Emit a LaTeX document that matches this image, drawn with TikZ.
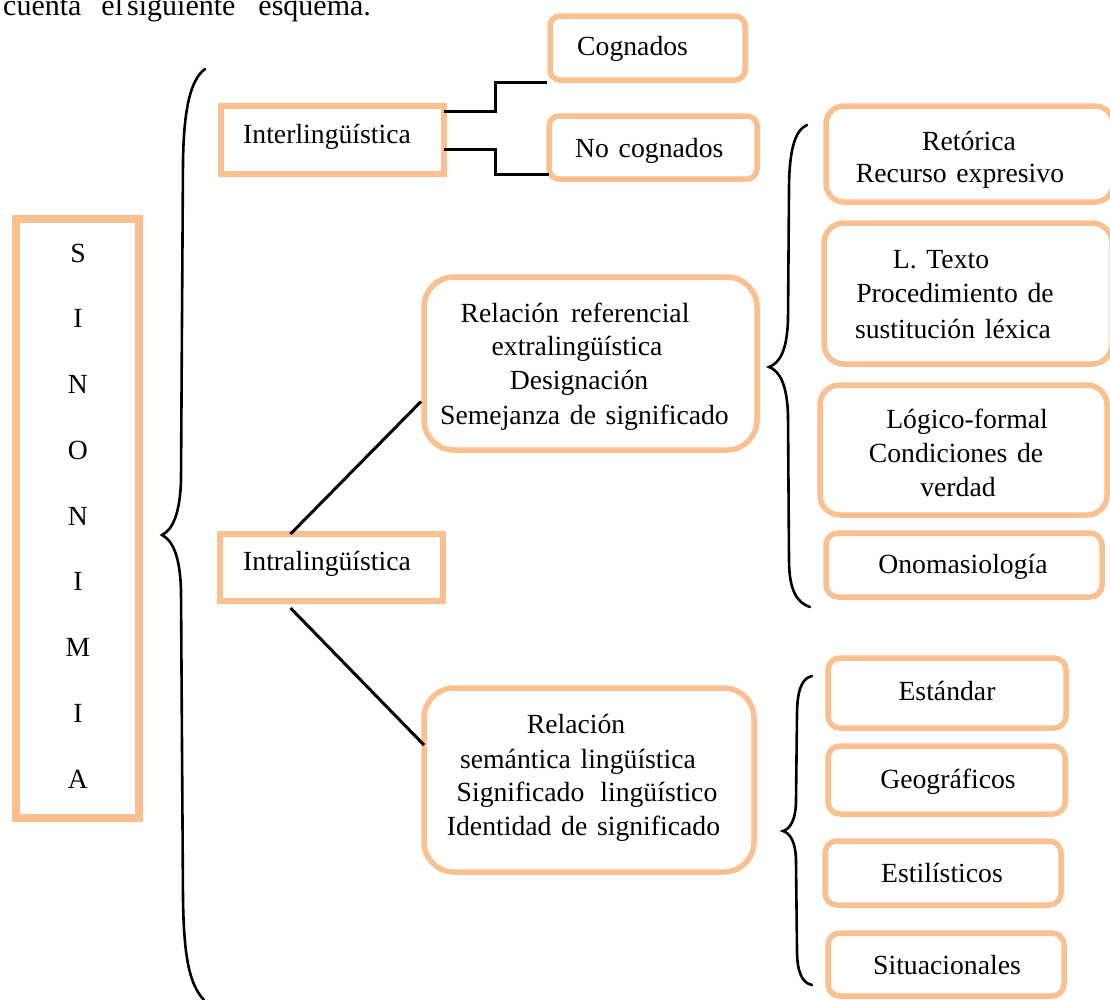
\documentclass[tikz,border=0pt]{standalone}
\usepackage{fontspec}
\setmainfont{Liberation Serif}[WordSpace=1.4]
\definecolor{peach}{RGB}{250,192,144}
\begin{document}
\begin{tikzpicture}[x=1pt,y=-1pt,
  every node/.style={font=\fontsize{27.7}{34}\selectfont},
  sqbox/.style={draw=peach,line width=6pt,inner sep=0pt,outer sep=0pt},
  rbox/.style={draw=peach,line width=5.5pt,rounded corners=#1,inner sep=0pt,outer sep=0pt},
  rbox/.default=10pt,
  txt/.style={anchor=base,inner sep=0pt},
  ltxt/.style={anchor=base west,inner sep=0pt},
  conn/.style={draw=black,line width=3pt},
  brace/.style={draw=black,line width=2.6pt,line cap=round}]
\clip (0,0) rectangle (1110,999);
\fill[white] (0,0) rectangle (1110,999);

% top text fragment
\node[ltxt,font=\fontsize{30}{36}\selectfont] (top) at (3,15) {cuenta\hspace{20pt}el\hspace{4pt}siguiente\hspace{23pt}esquema.};

% SINONIMIA box
\node[draw=peach,line width=7.7pt,inner sep=0pt,minimum width=123.6pt,minimum height=599pt] (sin) at (77.65,518.5) {};
\draw[peach,line width=2pt] ([shift={(7.2pt,-7.2pt)}]sin.north west) rectangle ([shift={(-7.2pt,7.2pt)}]sin.south east);
\foreach \l [count=\i from 0] in {S,I,N,O,N,I,M,I,A}
  \node[txt] (sl\i) at (78,262+\i*65.75) {\l};

% left brace
\draw[brace] (205,69) .. controls (190,80) and (184,110) .. (183,160) -- (181,480)
  .. controls (180,515) and (172,530) .. (162,535)
  .. controls (172,540) and (180,555) .. (181,590) -- (183,900)
  .. controls (184,960) and (190,985) .. (204,1000);

% level 1
\node[sqbox,minimum width=223pt,minimum height=68pt] (inter) at (332.5,140) {};
\node[ltxt] (tinter) at (243,143) {Interlingüística};
\node[sqbox,minimum width=223pt,minimum height=67pt] (intra) at (331.5,567.5) {};
\node[ltxt] (tintra) at (243,570) {Intralingüística};

% interlinguistica children
\node[rbox,minimum width=195pt,minimum height=64pt] (cog) at (647.5,48) {};
\node[ltxt] (tcog) at (577,55) {Cognados};
\node[rbox,minimum width=208pt,minimum height=63pt] (nocog) at (653,147.5) {};
\node[ltxt] (tnocog) at (575,157) {No cognados};

\draw[conn] ([yshift=-5pt]inter.north east) -- ++(51,0) |- ([shift={(-3pt,-2pt)}]cog.south west);
\draw[conn] ([yshift=-43pt]inter.north east) -- ++(51,0) |- ([yshift=5pt]nocog.south west);

% intralinguistica children
\node[rbox=30pt,minimum width=333pt,minimum height=173pt] (ref) at (590.5,363.5) {};
\node[txt] at (575,322) {Relación\hspace{12pt}referencial};
\node[txt] at (577,355) {extralingüística};
\node[txt] at (579,389) {Designación};
\node[txt] at (584.5,424) {Semejanza de significado};

\node[rbox=30pt,minimum width=330pt,minimum height=184pt] (sem) at (589,780) {};
\node[txt] at (576,733) {Relación};
\node[txt] at (578,768) {semántica lingüística};
\node[txt] at (587,801) {Significado\hspace{16pt}lingüístico};
\node[txt] at (583.5,835) {Identidad de significado};

\draw[conn] ([xshift=-41pt]intra.north) -- ([shift={(-3pt,-38pt)}]ref.west);
\draw[conn] ([shift={(-41pt,-7pt)}]intra.south) -- ([yshift=35pt]sem.west);

% right brace 1
\draw[brace] (807,125) .. controls (795,130) and (789,150) .. (789,190) -- (788,320)
  .. controls (787,350) and (780,363) .. (769,367)
  .. controls (780,371) and (787,385) .. (788,415) -- (789,560)
  .. controls (789,590) and (797,603) .. (810,607);

\node[rbox=18pt,minimum width=287pt,minimum height=96pt] (ret) at (969.5,154) {};
\node[txt] at (969,150) {Retórica};
\node[txt] at (960,182) {Recurso expresivo};

\node[rbox=20pt,minimum width=288pt,minimum height=141pt] (ltex) at (968,293.5) {};
\node[txt] at (941,268) {L. Texto};
\node[txt] at (955,302) {Procedimiento de};
\node[txt] at (953,338) {sustitución léxica};

\node[rbox=20pt,minimum width=287pt,minimum height=130pt] (log) at (963.5,450) {};
\node[txt] at (967,428) {Lógico-formal};
\node[txt] at (956,462) {Condiciones de};
\node[txt] at (958,496) {verdad};

\node[rbox=12pt,minimum width=276pt,minimum height=64pt] (ono) at (964,565) {};
\node[txt] at (963,573) {Onomasiología};

% right brace 2
\draw[brace] (812,676) .. controls (802,678) and (797,690) .. (797,715) -- (796,800)
  .. controls (796,820) and (790,829) .. (783,831)
  .. controls (790,833) and (796,842) .. (796,862) -- (797,950)
  .. controls (797,972) and (802,983) .. (812,985);

\node[rbox=12pt,minimum width=238pt,minimum height=70pt] (est) at (947,693) {};
\node[txt] at (947,700) {Estándar};
\node[rbox=12pt,minimum width=237pt,minimum height=68pt] (geo) at (946.5,780) {};
\node[txt] at (948,788) {Geográficos};
\node[rbox=12pt,minimum width=236pt,minimum height=64pt] (esti) at (943,873) {};
\node[txt] at (942,882) {Estilísticos};
\node[rbox=12pt,minimum width=236pt,minimum height=63pt] (sit) at (946,964.5) {};
\node[txt] at (947,974) {Situacionales};
\end{tikzpicture}
\end{document}
